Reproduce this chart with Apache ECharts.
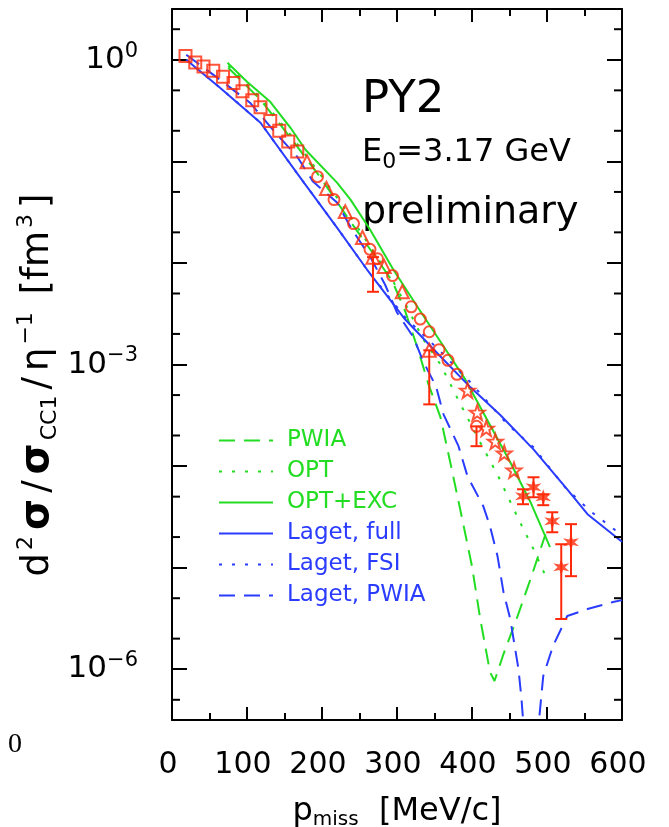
<!DOCTYPE html>
<html>
<head>
<meta charset="utf-8">
<script src="https://cdn.jsdelivr.net/npm/echarts@6/dist/echarts.min.js"></script>
<style>
html,body{margin:0;padding:0;background:#fff;}
#main{width:669px;height:827px;}
</style>
</head>
<body>
<div id="main"></div>
<script>
var FONT = 'DejaVu Sans';
var RED = '#ff2a0a', GREEN = '#22dd22', BLUE = '#2a3cff';

// ---- data points ----
var sqX = [18, 31, 42, 55, 68, 82, 94, 107, 118, 131, 143, 155, 167];
var sqY = [1.09, 0.94, 0.86, 0.78, 0.68, 0.59, 0.49, 0.40, 0.34, 0.25, 0.20, 0.157, 0.125];
var triX = [180, 206, 231, 254, 268, 283, 307, 343];
var triY = [0.099, 0.054, 0.032, 0.0178, 0.0114, 0.0092, 0.0052, 0.00138];
var circX = [194, 216, 242, 264, 274, 294, 319, 331, 343, 356, 368, 380, 406];
var circY = [0.0707, 0.042, 0.0244, 0.0136, 0.011, 0.0075, 0.0037, 0.0028, 0.0021, 0.0014, 0.0011, 0.0008, 0.000246];
var starX = [394, 407, 419, 431, 443, 456];
var starY = [0.000556, 0.000338, 0.000235, 0.000175, 0.000134, 0.000091];
var astX = [468, 482, 495, 507, 519, 532];
var astY = [5.05e-5, 6.19e-5, 4.93e-5, 2.86e-5, 1.01e-5, 1.78e-5];
// error bars
var errX  = [268, 343, 406, 468, 482, 495, 507, 519, 532];
var errLo = [0.0052, 0.000405, 0.000157, 4.21e-5, 4.93e-5, 4.12e-5, 2.23e-5, 3.12e-6, 8.24e-6];
var errHi = [0.0114, 0.00138, 0.000246, 5.91e-5, 7.76e-5, 5.28e-5, 3.51e-5, 1.70e-5, 2.68e-5];

// ---- model curves ----
var pwiaX = [75, 118, 158, 198, 238, 271, 294, 311, 328, 342, 358, 371, 387, 400, 411, 424, 430, 442, 458, 478, 498];
var pwiaY = [0.834, 0.404, 0.171, 0.0691, 0.0255, 0.01156, 0.00656, 0.00333, 0.00141, 0.000637, 0.000302, 0.000109, 3.0e-5, 1.03e-5, 3.12e-6, 9.39e-7, 7.65e-7, 1.41e-6, 2.91e-6, 7.71e-6, 2.13e-5];
var optX = [75, 118, 158, 198, 238, 271, 295, 315, 335, 358, 384, 411, 435, 462, 482, 500];
var optY = [0.873, 0.423, 0.183, 0.074, 0.0286, 0.0121, 0.00656, 0.00348, 0.00177, 0.001, 0.000415, 0.000171, 7.94e-5, 3.0e-5, 1.52e-5, 7.71e-6];
var excX = [74, 100, 131, 158, 178, 220, 238, 264, 295, 327, 362, 391, 420, 451, 478, 504];
var excY = [0.934, 0.608, 0.386, 0.214, 0.130, 0.0618, 0.042, 0.0213, 0.00861, 0.00373, 0.00151, 0.000713, 0.000288, 0.000109, 4.41e-5, 1.59e-5];
var fullX = [19, 64, 118, 171, 220, 260, 311, 358, 398, 438, 482, 527, 554, 600];
var fullY = [1.0, 0.531, 0.240, 0.0691, 0.0223, 0.00861, 0.00277, 0.0012, 0.000596, 0.000316, 0.000146, 5.91e-5, 3.36e-5, 1.8e-5];
var fsiX = [19, 64, 118, 171, 220, 260, 311, 358, 398, 447, 482, 524, 558, 591, 600];
var fsiY = [1.0, 0.531, 0.240, 0.0691, 0.0223, 0.00861, 0.0029, 0.001345, 0.000667, 0.000258, 0.000153, 6.19e-5, 3.59e-5, 2.34e-5, 2.13e-5];
var lpwX = [19, 64, 104, 138, 167, 188, 220, 240, 264, 284, 300, 322, 335, 352, 362, 382, 394, 415, 424, 434, 442, 451, 462, 466, 470, 487, 495, 508, 527, 554, 588, 600];
var lpwY = [1.12, 0.636, 0.378, 0.191, 0.111, 0.0632, 0.0393, 0.0213, 0.01156, 0.00613, 0.00325, 0.00185, 0.00107, 0.000609, 0.000323, 0.000157, 7.94e-5, 4.03e-5, 2.56e-5, 1.30e-5, 5.74e-6, 3.12e-6, 1.0e-6, 5.09e-7, 2.06e-7, 2.06e-7, 8.57e-7, 1.69e-6, 3.34e-6, 3.91e-6, 4.58e-6, 4.79e-6];

// axes
var xTicks = [0, 100, 200, 300, 400, 500, 600];
var yLabelExp = [0, -3, -6];
var yMinor = [2, 0.5, 0.2, 0.05, 0.02, 5e-3, 2e-3, 5e-4, 2e-4, 5e-5, 2e-5, 5e-6, 2e-6, 5e-7];

function zip(xs, ys) { return xs.map(function (x, i) { return [x, ys[i]]; }); }

var STAR5 = 'path://M0,-10 L2.35,-3.24 L9.51,-3.09 L3.8,1.24 L5.88,8.09 L0,4 L-5.88,8.09 L-3.8,1.24 L-9.51,-3.09 L-2.35,-3.24 Z';
var AST6 = 'path://M0,-10 L2,-3.46 L8.66,-5 L4,0 L8.66,5 L2,3.46 L0,10 L-2,3.46 L-8.66,5 L-4,0 L-8.66,-5 L-2,-3.46 Z';

function curve(name, xs, ys, color, type) {
  return {
    name: name, type: 'line', data: zip(xs, ys), symbol: 'none', clip: true,
    lineStyle: { color: color, width: 2, type: type }, itemStyle: { color: color },
    z: 3, silent: true
  };
}
function points(name, xs, ys, symbol, size, filled) {
  return {
    name: name, type: 'scatter', data: zip(xs, ys), symbol: symbol, symbolSize: size,
    itemStyle: { color: filled ? RED : 'rgba(0,0,0,0)', borderColor: RED, borderWidth: filled ? 0 : 2 },
    z: 4, silent: true
  };
}

var axisLineStyle = { lineStyle: { color: '#000', width: 2 }, onZero: false };
var T = function (size, extra) {
  var o = { fontSize: size, fontFamily: FONT, color: '#000' };
  for (var k in extra) o[k] = extra[k];
  return o;
};

var option = {
  animation: false,
  backgroundColor: '#fff',
  grid: { left: 172, right: 47, top: 9, bottom: 107, outerBoundsMode: 'none', containLabel: false },
  xAxis: [{
    type: 'value', min: 0, max: 600, interval: 100, position: 'bottom',
    axisLine: axisLineStyle,
    axisTick: { inside: true, length: 13, lineStyle: { width: 2, color: '#000' } },
    minorTick: { show: true, splitNumber: 2, length: 7, lineStyle: { width: 2, color: '#000' } },
    splitLine: { show: false },
    axisLabel: { margin: 30, fontSize: 30, fontFamily: FONT, color: '#000', padding: [0, 8, 0, 0],
      formatter: function (v) { return xTicks.indexOf(v) >= 0 ? String(v) : ''; } },
    name: '{p|p}{sub|miss}{n|  [MeV/c]}', nameLocation: 'middle', nameGap: 74,
    nameTextStyle: { rich: {
      p: T(32, { lineHeight: 36 }),
      sub: T(20, { lineHeight: 22, verticalAlign: 'bottom' }),
      n: T(32, { lineHeight: 36 }) } }
  }, {
    type: 'value', min: 0, max: 600, interval: 100, position: 'top',
    axisLine: axisLineStyle,
    axisTick: { inside: true, length: 13, lineStyle: { width: 2, color: '#000' } },
    minorTick: { show: true, splitNumber: 2, length: 7, lineStyle: { width: 2, color: '#000' } },
    splitLine: { show: false }, axisLabel: { show: false }
  }],
  yAxis: [{
    type: 'log', min: Math.pow(10, -6.5), max: Math.pow(10, 0.5), position: 'left',
    axisLine: axisLineStyle,
    axisTick: { inside: true, length: 15, lineStyle: { width: 2, color: '#000' } },
    splitLine: { show: false },
    axisLabel: {
      margin: 34,
      formatter: function (v) {
        var l = Math.log10(v), e = Math.round(l);
        if (Math.abs(l - e) > 1e-6 || yLabelExp.indexOf(e) < 0) return '';
        return '{b|10}{s|' + (e === 0 ? '0' : '\u2212' + (-e)) + '}';
      },
      rich: {
        b: T(31, { lineHeight: 38 }),
        s: T(21, { lineHeight: 18, verticalAlign: 'top' })
      }
    }
  }, {
    type: 'log', min: Math.pow(10, -6.5), max: Math.pow(10, 0.5), position: 'right',
    axisLine: axisLineStyle,
    axisTick: { inside: true, length: 15, lineStyle: { width: 2, color: '#000' } },
    splitLine: { show: false }, axisLabel: { show: false }
  }],
  legend: {
    orient: 'vertical', left: 213, top: 424, itemWidth: 54, itemHeight: 14, itemGap: 8,
    selectedMode: false, itemStyle: { opacity: 0 },
    textStyle: { fontSize: 23, fontFamily: FONT, padding: [0, 0, 0, 9] },
    data: [
      { name: 'PWIA', textStyle: { color: GREEN } },
      { name: 'OPT', textStyle: { color: GREEN } },
      { name: 'OPT+EXC', textStyle: { color: GREEN } },
      { name: 'Laget, full', textStyle: { color: BLUE } },
      { name: 'Laget, FSI', textStyle: { color: BLUE } },
      { name: 'Laget, PWIA', textStyle: { color: BLUE } }
    ]
  },
  graphic: [
    { type: 'text', left: 362, top: 78, style: { text: 'PY2', fontSize: 45, fontFamily: FONT, fill: '#000' } },
    { type: 'text', left: 362, top: 137, style: {
      text: '{n|E}{s|0}{n|=3.17 GeV}', fill: '#000',
      rich: { n: { fontSize: 32, lineHeight: 40, fontFamily: FONT }, s: { fontSize: 22, lineHeight: 26, verticalAlign: 'bottom', fontFamily: FONT } } } },
    { type: 'text', left: 362, top: 194, style: { text: 'preliminary', fontSize: 38, fontFamily: FONT, fill: '#000' } },
    { type: 'text', x: 38, y: 385, rotation: Math.PI / 2, style: {
      text: '{n|d}{sup|2}{b|\u03c3}{n|/}{b|\u03c3}{sub|CC1}{n|/}{n|\u03b7}{sup|\u22121}{n| [fm}{sup|3}{n|]}',
      align: 'center', verticalAlign: 'middle', fill: '#000',
      rich: {
        n: { fontSize: 37, lineHeight: 46, fontFamily: FONT, padding: [0, 3, 0, 3] },
        b: { fontSize: 40, lineHeight: 46, fontFamily: FONT, fontWeight: 'bold', padding: [0, 3, 0, 3] },
        sup: { fontSize: 22, lineHeight: 24, verticalAlign: 'top', fontFamily: FONT, padding: [0, 3, 0, 0] },
        sub: { fontSize: 22, lineHeight: 24, verticalAlign: 'bottom', fontFamily: FONT, padding: [0, 3, 0, 0] }
      } } },
    { type: 'text', left: 8, top: 731, style: { text: '0', fontSize: 28, fontFamily: 'Liberation Serif', fill: '#000' } }
  ],
  series: [
    curve('PWIA', pwiaX, pwiaY, GREEN, [16, 9]),
    curve('OPT', optX, optY, GREEN, [3, 10]),
    curve('OPT+EXC', excX, excY, GREEN, 'solid'),
    curve('Laget, full', fullX, fullY, BLUE, 'solid'),
    curve('Laget, FSI', fsiX, fsiY, BLUE, [3, 10]),
    curve('Laget, PWIA', lpwX, lpwY, BLUE, [16, 9]),
    {
      name: 'errors', type: 'custom', silent: true, z: 4,
      dimensions: ['x', 'lo', 'hi'], encode: { x: 0, y: [1, 2] },
      data: errX.map(function (x, i) { return [x, errLo[i], errHi[i]]; }),
      renderItem: function (params, api) {
        var a = api.coord([api.value(0), api.value(1)]);
        var b = api.coord([api.value(0), api.value(2)]);
        var st = { stroke: RED, lineWidth: 2 };
        return { type: 'group', children: [
          { type: 'line', shape: { x1: a[0], y1: a[1], x2: b[0], y2: b[1] }, style: st },
          { type: 'line', shape: { x1: a[0] - 6, y1: a[1], x2: a[0] + 6, y2: a[1] }, style: st },
          { type: 'line', shape: { x1: b[0] - 6, y1: b[1], x2: b[0] + 6, y2: b[1] }, style: st }
        ] };
      }
    },
    {
      name: 'minor ticks', type: 'custom', silent: true, z: 5,
      data: yMinor.map(function (v) { return [0, v]; }),
      renderItem: function (params, api) {
        var v = api.value(1);
        var l = api.coord([0, v]), r = api.coord([600, v]);
        var st = { stroke: '#000', lineWidth: 2 };
        return { type: 'group', children: [
          { type: 'line', shape: { x1: l[0], y1: l[1], x2: l[0] + 8, y2: l[1] }, style: st },
          { type: 'line', shape: { x1: r[0] - 8, y1: r[1], x2: r[0], y2: r[1] }, style: st }
        ] };
      }
    },
    points('sq', sqX, sqY, 'rect', 12, false),
    points('tri', triX, triY, 'triangle', 13, false),
    points('circ', circX, circY, 'circle', 11, false),
    points('star', starX, starY, STAR5, 15, false),
    points('ast', astX, astY, AST6, 16, true)
  ]
};

echarts.init(document.getElementById('main')).setOption(option);
</script>
</body>
</html>
